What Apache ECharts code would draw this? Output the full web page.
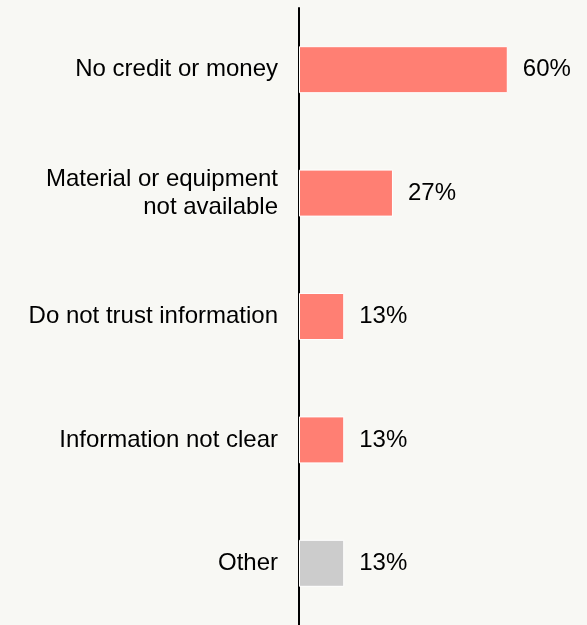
<!DOCTYPE html>
<html><head><meta charset="utf-8">
<script src="https://cdn.jsdelivr.net/npm/echarts@6/dist/echarts.min.js"></script>
<style>html,body{margin:0;padding:0;background:#f8f8f4;}#c{width:587px;height:625px;}</style>
</head><body><div id="c"></div>
<script>
const categories = ["No credit or money", "Material or equipment\nnot available", "Do not trust information", "Information not clear", "Other"];
const values = [60, 27, 13, 13, 13];
const barColors = ["#ff7f73", "#ff7f73", "#ff7f73", "#ff7f73", "#cccccc"];

const chart = echarts.init(document.getElementById('c'), null, {renderer: 'canvas'});
chart.setOption({
  backgroundColor: '#f8f8f4',
  animation: false,
  grid: {left: 299, right: 11, top: 8, bottom: -2, containLabel: false},
  xAxis: {type: 'value', min: 0, max: 79.6, show: false},
  yAxis: {
    type: 'category', data: categories, inverse: true,
    axisLine: {show: true, lineStyle: {color: '#000', width: 2}},
    axisTick: {show: false},
    axisLabel: {margin: 21, fontSize: 24, color: '#000', fontFamily: 'Liberation Sans, Arial, sans-serif', lineHeight: 28, align: 'right', padding: [4, 0, 0, 0]}
  },
  series: [{
    type: 'bar',
    data: values.map((v, i) => ({value: v, itemStyle: {color: barColors[i]}})),
    barWidth: 47,
    itemStyle: {borderColor: '#ffffff', borderWidth: 1},
    label: {show: true, position: 'right', distance: 15, fontSize: 24, color: '#000', fontFamily: 'Liberation Sans, Arial, sans-serif', formatter: '{c}%', padding: [4, 0, 0, 0]}
  }]
});
</script></body></html>
